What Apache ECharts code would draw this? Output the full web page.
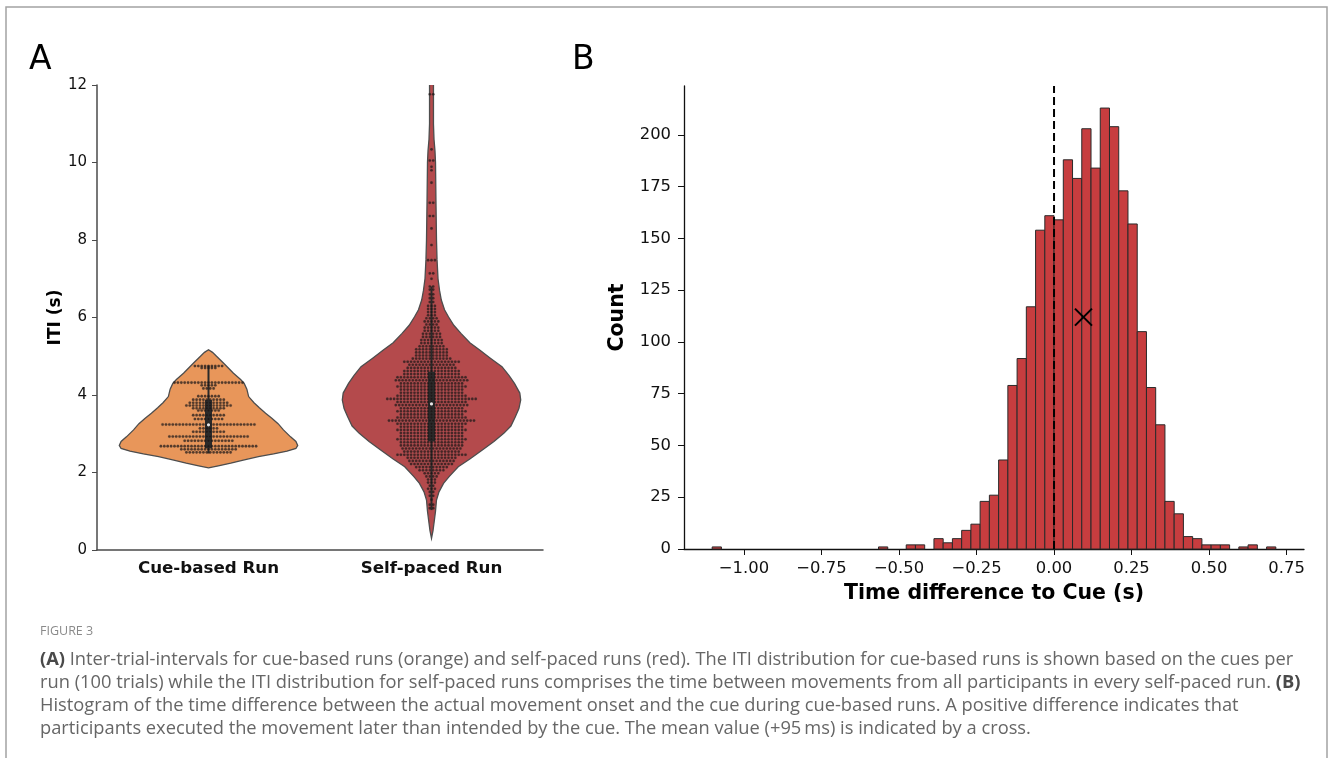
<!DOCTYPE html>
<html>
<head>
<meta charset="utf-8">
<title>Figure 3 - ITI violins and cue timing histogram</title>
<script src="https://cdn.jsdelivr.net/npm/echarts@6.0.0/dist/echarts.min.js"></script>
<style>
  html, body { margin: 0; padding: 0; background: #fff; }
  #main { width: 1330px; height: 758px; }
</style>
</head>
<body>
<div id="main"></div>
<script type="text/javascript">
// ---- panel A: violins ----
var categories = ['Cue-based Run', 'Self-paced Run'];

// violin outline: [ITI (s), half width relative to widest violin]
var cueOutline = [
  [2.12, 0], [2.17, 0.11], [2.24, 0.25], [2.32, 0.39], [2.41, 0.56], [2.48, 0.73],
  [2.55, 0.88], [2.62, 0.98], [2.70, 1.0], [2.80, 0.98], [2.92, 0.92], [3.10, 0.84],
  [3.26, 0.78], [3.40, 0.71], [3.53, 0.64], [3.67, 0.57], [3.80, 0.51], [3.96, 0.45],
  [4.15, 0.43], [4.30, 0.40], [4.40, 0.36], [4.56, 0.28], [4.82, 0.17], [5.00, 0.09],
  [5.10, 0.045], [5.17, 0]
];
var selfOutline = [
  [0.30, 0], [0.50, 0.017], [0.80, 0.034], [1.00, 0.045], [1.29, 0.056], [1.50, 0.084],
  [1.72, 0.135], [1.90, 0.20], [2.15, 0.30], [2.35, 0.43], [2.58, 0.57], [2.80, 0.70],
  [3.01, 0.81], [3.20, 0.89], [3.44, 0.94], [3.65, 0.98], [3.87, 1.0], [4.05, 0.99],
  [4.30, 0.93], [4.50, 0.87], [4.73, 0.79], [4.95, 0.66], [5.16, 0.54], [5.35, 0.43],
  [5.59, 0.33], [5.80, 0.25], [6.02, 0.19], [6.20, 0.146], [6.45, 0.11], [6.70, 0.09],
  [7.00, 0.073], [7.50, 0.062], [8.00, 0.056], [9.00, 0.05], [10.00, 0.045],
  [10.30, 0.039], [10.60, 0.028], [11.00, 0.022], [12.00, 0.022], [12.60, 0.022]
];

// inner box: [whisker low, q1, median, q3, whisker high]
var cueBox = [2.49, 2.62, 3.23, 3.87, 4.76];
var selfBox = [1.03, 2.80, 3.77, 4.60, 6.80];

// swarm rows: [ITI (s), number of points]
var cueSwarm = [
  [2.52, 14], [2.60, 17], [2.68, 29], [2.82, 15], [2.93, 24], [3.05, 10], [3.14, 6],
  [3.24, 28], [3.38, 9], [3.48, 10], [3.60, 7], [3.66, 10], [3.73, 14], [3.80, 12],
  [3.88, 10], [3.97, 7], [4.17, 4], [4.25, 5], [4.32, 21], [4.70, 5], [4.75, 9]
];
var selfSwarm = [
  [1.08, 2], [1.17, 2], [1.30, 1], [1.40, 2], [1.50, 2], [1.58, 3], [1.66, 2], [1.74, 3],
  [1.82, 3], [1.90, 4], [1.98, 5], [2.06, 8], [2.14, 10], [2.22, 13], [2.30, 14], [2.38, 15],
  [2.46, 21], [2.54, 17], [2.62, 18], [2.70, 19], [2.78, 19], [2.86, 21], [2.94, 19], [3.02, 19],
  [3.10, 21], [3.18, 19], [3.26, 21], [3.34, 26], [3.42, 21], [3.50, 19], [3.58, 21], [3.66, 19],
  [3.74, 22], [3.82, 21], [3.90, 27], [3.98, 21], [4.06, 19], [4.14, 19], [4.22, 21], [4.30, 19],
  [4.38, 22], [4.46, 21], [4.54, 17], [4.62, 17], [4.70, 15], [4.78, 14], [4.86, 17], [4.94, 12],
  [5.02, 10], [5.10, 10], [5.18, 10], [5.26, 8], [5.34, 7], [5.42, 7], [5.50, 6], [5.58, 6],
  [5.66, 5], [5.74, 5], [5.82, 4], [5.90, 5], [5.98, 4], [6.06, 3], [6.14, 3], [6.22, 3],
  [6.30, 3], [6.40, 2], [6.50, 2], [6.60, 2], [6.72, 2], [6.80, 2], [7.00, 1], [7.14, 2],
  [7.48, 3], [7.87, 1], [8.30, 1], [8.62, 2], [8.96, 2], [9.48, 1], [9.80, 1], [9.89, 1],
  [10.05, 2], [10.34, 1], [11.76, 2]
];

// ---- panel B: histogram ----
var histStart = -1.1025;   // left edge of first bin (s)
var histBinWidth = 0.0298; // s
var histCounts = [
  1, 0, 0, 0, 0, 0, 0, 0, 0, 0, 0, 0, 0, 0, 0, 0, 0, 0, 1, 0,
  0, 2, 2, 0, 5, 3, 5, 9, 12, 23, 26, 43, 79, 92, 117, 154, 161, 159, 188, 179,
  203, 184, 213, 204, 173, 157, 105, 78, 60, 23, 17, 6, 5, 2, 2, 2, 0, 1, 2, 0,
  1
];
var meanPoint = [0.095, 112]; // mean (+95 ms), drawn as a cross
var histTicks = [-1.0, -0.75, -0.5, -0.25, 0, 0.25, 0.5, 0.75];
var countTicks = [0, 25, 50, 75, 100, 125, 150, 175, 200];

var captionLines = [
  '{b|(A)} Inter-trial-intervals for cue-based runs (orange) and self-paced runs (red). The ITI distribution for cue-based runs is shown based on the cues per',
  'run (100 trials) while the ITI distribution for self-paced runs comprises the time between movements from all participants in every self-paced run. {b|(B)}',
  'Histogram of the time difference between the actual movement onset and the cue during cue-based runs. A positive difference indicates that',
  'participants executed the movement later than intended by the cue. The mean value (+95\u2009ms) is indicated by a cross.'
];

var violinOutlines = [cueOutline, selfOutline];
var boxStats = [cueBox, selfBox];
var swarmRows = [cueSwarm, selfSwarm];
var violinColors = ['#e8965a', '#b44a4c'];

var font = 'DejaVu Sans';
var capFont = 'Open Sans';
var dom = document.getElementById('main');
var myChart = echarts.init(dom, null, { renderer: 'canvas' });

// histogram bins built from start + width
var histData = [];
for (var i = 0; i < histCounts.length; i++) {
  if (histCounts[i] > 0) {
    histData.push([histStart + i * histBinWidth, histStart + (i + 1) * histBinWidth, histCounts[i]]);
  }
}
var histEnd = histStart + histCounts.length * histBinWidth;
var histSpan = histEnd - histStart;
var xMinB = histStart - 0.05 * histSpan;
var xMaxB = histEnd + 0.05 * histSpan;
var yMaxB = Math.max.apply(null, histCounts) * 1.05;

function renderViolin(params, api) {
  var idx = params.dataIndex;
  var outline = violinOutlines[idx];
  var box = boxStats[idx];
  var rows = swarmRows[idx];
  var halfMax = api.size([1, 0])[0] * 0.4;
  var cx = api.coord([idx, 0])[0];
  var right = [], left = [];
  outline.forEach(function (p) {
    var y = api.coord([idx, p[0]])[1];
    right.push([cx + p[1] * halfMax, y]);
    left.unshift([cx - p[1] * halfMax, y]);
  });
  var children = [{
    type: 'polygon',
    shape: { points: right.concat(left) },
    style: { fill: violinColors[idx], stroke: '#4d4d4d', lineWidth: 1.3 }
  }];
  // whisker + box
  var yLo = api.coord([idx, box[0]])[1], yQ1 = api.coord([idx, box[1]])[1];
  var yMed = api.coord([idx, box[2]])[1], yQ3 = api.coord([idx, box[3]])[1];
  var yHi = api.coord([idx, box[4]])[1];
  children.push({
    type: 'line', shape: { x1: cx, y1: yLo, x2: cx, y2: yHi },
    style: { stroke: '#2a2a2a', lineWidth: 2 }
  });
  children.push({
    type: 'rect', shape: { x: cx - 3.5, y: yQ3, width: 7, height: yQ1 - yQ3 },
    style: { fill: '#2a2a2a' }
  });
  // swarm points
  var step = 3.4;
  rows.forEach(function (r) {
    var y = api.coord([idx, r[0]])[1];
    for (var k = 0; k < r[1]; k++) {
      children.push({
        type: 'circle',
        shape: { cx: cx + (k - (r[1] - 1) / 2) * step, cy: y, r: 1.3 },
        style: { fill: 'rgba(25,18,18,0.7)', stroke: 'rgba(70,70,70,0.45)', lineWidth: 0.4 }
      });
    }
  });
  children.push({
    type: 'circle', shape: { cx: cx, cy: yMed, r: 1.6 },
    style: { fill: '#e8e8e8' }
  });
  return { type: 'group', children: children };
}

function renderBin(params, api) {
  var p0 = api.coord([api.value(0), api.value(2)]);
  var p1 = api.coord([api.value(1), 0]);
  return {
    type: 'rect',
    shape: { x: p0[0], y: p0[1], width: p1[0] - p0[0], height: p1[1] - p0[1] },
    style: { fill: '#c73d3f', stroke: '#2a2a2a', lineWidth: 1 }
  };
}

function renderCross(params, api) {
  var c = api.coord([api.value(0), api.value(1)]);
  var h = 8.5;
  return {
    type: 'group',
    children: [
      { type: 'line', shape: { x1: c[0] - h, y1: c[1] - h, x2: c[0] + h, y2: c[1] + h }, style: { stroke: '#000', lineWidth: 2 } },
      { type: 'line', shape: { x1: c[0] - h, y1: c[1] + h, x2: c[0] + h, y2: c[1] - h }, style: { stroke: '#000', lineWidth: 2 } }
    ]
  };
}

function fmtTick(v) {
  return (v < 0 ? '\u2212' : '') + Math.abs(v).toFixed(2);
}

var graphics = [
  { type: 'rect', z: 0, shape: { x: 6, y: 7, width: 1321, height: 800 },
    style: { fill: 'none', stroke: '#a3a3a3', lineWidth: 1.5 } },
  { type: 'text', x: 29, y: 60, style: { text: 'A', font: '33px "DejaVu Sans"', fill: '#000', verticalAlign: 'middle' } },
  { type: 'text', x: 572, y: 60, style: { text: 'B', font: '33px "DejaVu Sans"', fill: '#000', verticalAlign: 'middle' } },
  { type: 'text', x: 40, y: 631, style: { text: 'FIGURE 3', font: '12.5px "Open Sans"', fill: '#8a8a8a', verticalAlign: 'middle' } }
];
captionLines.forEach(function (t, i) {
  graphics.push({
    type: 'text', x: 40, y: 660 + i * 23,
    style: {
      text: t, fontFamily: capFont, fontSize: 18.3, fill: '#666', verticalAlign: 'middle',
      rich: { b: { fontFamily: capFont, fontSize: 18.3, fontWeight: 'bold', fill: '#4a4a4a' } }
    }
  });
});

var option = {
  animation: false,
  backgroundColor: '#fff',
  graphic: graphics,
  grid: [
    { left: 97, top: 85, width: 446, height: 465 },
    { left: 684, top: 86, width: 620, height: 463 }
  ],
  xAxis: [{
    gridIndex: 0,
    type: 'category',
    data: categories,
    boundaryGap: true,
    axisLine: { onZero: false, lineStyle: { color: '#4a4a4a', width: 1.5 } },
    axisTick: { alignWithLabel: true, length: 5, lineStyle: { color: '#4a4a4a' } },
    axisLabel: { margin: 10, fontFamily: font, fontWeight: 'bold', fontSize: 16.7, color: '#111' },
    splitLine: { show: false }
  }, {
    gridIndex: 1,
    type: 'value',
    min: xMinB,
    max: xMaxB,
    name: 'Time difference to Cue (s)',
    nameLocation: 'middle',
    nameGap: 34,
    nameTextStyle: { fontFamily: font, fontWeight: 'bold', fontSize: 20.5, color: '#000' },
    axisLine: { onZero: false, lineStyle: { color: '#111', width: 1.3 } },
    axisTick: { customValues: histTicks, length: 6, lineStyle: { color: '#111' } },
    axisLabel: { customValues: histTicks, formatter: fmtTick, margin: 12, fontFamily: font, fontSize: 16.4, color: '#111' },
    splitLine: { show: false }
  }],
  yAxis: [{
    gridIndex: 0,
    type: 'value',
    min: 0,
    max: 12,
    interval: 2,
    name: 'ITI (s)',
    nameLocation: 'middle',
    nameGap: 31,
    nameTextStyle: { fontFamily: font, fontWeight: 'bold', fontSize: 17, color: '#000' },
    axisLine: { show: true, onZero: false, lineStyle: { color: '#4a4a4a', width: 1.5 } },
    axisTick: { show: true, length: 5, lineStyle: { color: '#4a4a4a' } },
    axisLabel: { margin: 10, fontFamily: font, fontSize: 15, color: '#111' },
    splitLine: { show: false }
  }, {
    gridIndex: 1,
    type: 'value',
    min: 0,
    max: yMaxB,
    name: 'Count',
    nameLocation: 'middle',
    nameGap: 56,
    nameTextStyle: { fontFamily: font, fontWeight: 'bold', fontSize: 20.5, color: '#000' },
    axisLine: { show: true, onZero: false, lineStyle: { color: '#111', width: 1.3 } },
    axisTick: { show: true, customValues: countTicks, length: 6, lineStyle: { color: '#111' } },
    axisLabel: { customValues: countTicks, margin: 13, fontFamily: font, fontSize: 16.4, color: '#111' },
    splitLine: { show: false }
  }],
  series: [{
    type: 'custom',
    xAxisIndex: 0,
    yAxisIndex: 0,
    clip: true,
    renderItem: renderViolin,
    encode: { x: 0, y: 1 },
    data: [[0, 0], [1, 0]],
    silent: true
  }, {
    type: 'custom',
    xAxisIndex: 1,
    yAxisIndex: 1,
    renderItem: renderBin,
    encode: { x: [0, 1], y: 2 },
    data: histData,
    silent: true,
    z: 2
  }, {
    type: 'line',
    xAxisIndex: 1,
    yAxisIndex: 1,
    data: [[0, 0], [0, yMaxB]],
    symbol: 'none',
    lineStyle: { color: '#000', width: 2, type: [8, 4] },
    silent: true,
    z: 3
  }, {
    type: 'custom',
    xAxisIndex: 1,
    yAxisIndex: 1,
    renderItem: renderCross,
    encode: { x: 0, y: 1 },
    data: [meanPoint],
    silent: true,
    z: 4
  }]
};

myChart.setOption(option);
</script>
</body>
</html>
